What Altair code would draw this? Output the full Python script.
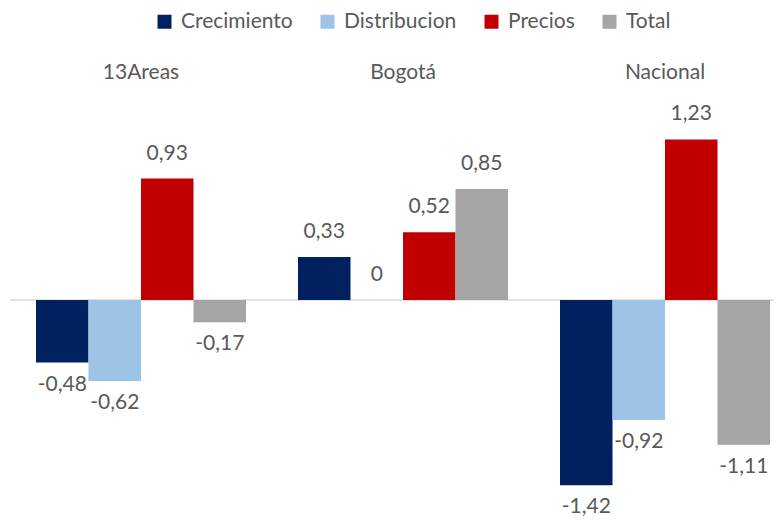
import altair as alt
import pandas as pd

groups = ["13Areas", "Bogotá", "Nacional"]
series = ["Crecimiento", "Distribucion", "Precios", "Total"]
colors = ["#002060", "#9DC3E6", "#C00000", "#A5A5A5"]
values = {
    "13Areas": [-0.48, -0.62, 0.93, -0.17],
    "Bogotá": [0.33, 0.0, 0.52, 0.85],
    "Nacional": [-1.42, -0.92, 1.23, -1.11],
}

rows = []
for g in groups:
    for s, v in zip(series, values[g]):
        lab = "0" if v == 0 else f"{v:.2f}".replace(".", ",")
        rows.append({"group": g, "series": s, "v": v, "zero": 0.0, "label": lab})
df = pd.DataFrame(rows)

FONT = "Lato"
TXT = "#595959"

xenc = alt.X("group:N", sort=groups, axis=None,
             scale=alt.Scale(range=[28, 762], paddingInner=0.1985, paddingOuter=0))
xoff = alt.XOffset("series:N", sort=series,
                   scale=alt.Scale(paddingInner=0, paddingOuter=0))
yscale = alt.Scale(domain=[-1.663, 2.2375], nice=False, zero=False)
yenc = alt.Y("v:Q", axis=None, scale=yscale)

base = alt.Chart(df)

bars = base.mark_bar().encode(
    x=xenc, xOffset=xoff, y=yenc, y2=alt.Y2("zero:Q"),
    color=alt.Color("series:N", sort=series,
                    scale=alt.Scale(domain=series, range=colors),
                    legend=alt.Legend(orient="none", legendX=146, legendY=3,
                                      direction="horizontal", title=None,
                                      symbolType="square", symbolSize=196,
                                      symbolStrokeWidth=0, labelFontSize=21,
                                      labelFont=FONT, labelColor=TXT,
                                      labelOffset=6, columnPadding=24,
                                      labelLimit=300)),
)

rule = base.transform_filter("datum.series == 'Crecimiento' && datum.group == '13Areas'").mark_rule(
    color="#D9D9D9", strokeWidth=1.5
).encode(y=alt.Y("zero:Q", axis=None, scale=yscale), x=alt.value(2), x2=alt.value(766))

pos = base.transform_filter("datum.v >= 0").mark_text(
    dy=-25, baseline="middle", font=FONT, fontSize=21, color=TXT
).encode(x=xenc, xOffset=xoff, y=yenc, text="label:N")

neg = base.transform_filter("datum.v < 0").mark_text(
    dy=22, baseline="middle", font=FONT, fontSize=21, color=TXT
).encode(x=xenc, xOffset=xoff, y=yenc, text="label:N")

glabels = base.transform_filter("datum.series == 'Crecimiento'").mark_text(
    baseline="middle", font=FONT, fontSize=21, color=TXT
).encode(x=xenc, y=alt.value(65), text="group:N")

chart = alt.layer(rule, bars, pos, neg, glabels).properties(
    width=766, height=509, padding=0, autosize=alt.AutoSizeParams(type="none")
).configure_view(stroke=None)

chart.save("out.html", embed_options={"renderer": "svg", "actions": False})
